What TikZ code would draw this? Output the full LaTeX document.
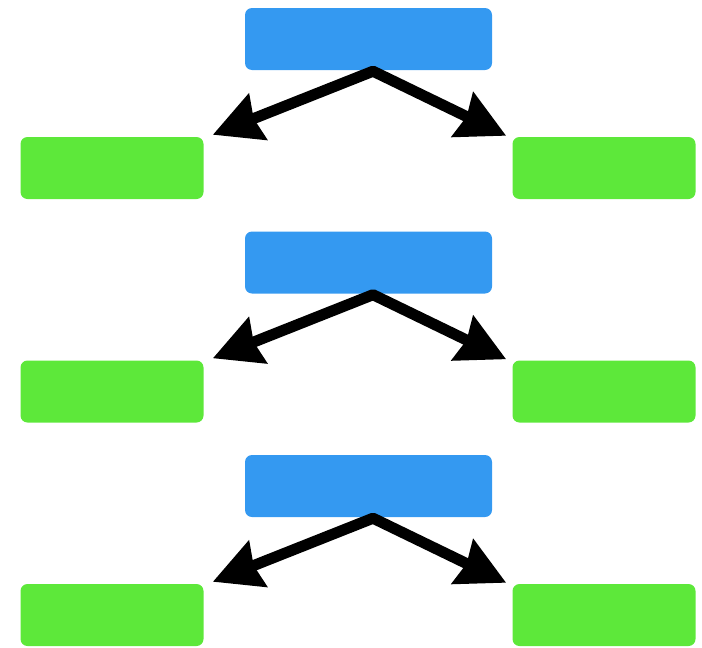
\documentclass[tikz,border=0pt]{standalone}
\usetikzlibrary{arrows.meta,calc}
\definecolor{boxblue}{HTML}{3499F1}
\definecolor{boxgreen}{HTML}{5DE83A}
\tikzset{
  bluebox/.style={rectangle,rounded corners=7pt,fill=boxblue,minimum width=247pt,minimum height=62pt,inner sep=0pt,draw=none},
  greenbox/.style={rectangle,rounded corners=7pt,fill=boxgreen,minimum width=183pt,minimum height=62pt,inner sep=0pt,draw=none},
  splitarrow/.style={line width=11pt,line join=round,black,
    {Stealth[length=48pt,width=48pt,inset=4pt]}-{Stealth[length=48pt,width=48pt,inset=4pt]}}
}
\begin{document}
\begin{tikzpicture}[x=1pt,y=-1pt]
\useasboundingbox (0,0) rectangle (702,648);
\foreach \i/\dy in {1/0,2/223.5,3/447}{
  \node[bluebox]  (b\i) at (368.5,39+\dy) {};
  \node[greenbox] (l\i) at (112,168+\dy) {};
  \node[greenbox] (r\i) at (604,168+\dy) {};
  \coordinate (a\i) at ($(b\i.south)+(4.5,1)$);
  \coordinate (tl\i) at ($(l\i.north east)+(9,-2)$);
  \coordinate (tr\i) at ($(r\i.north west)+(-6,-1)$);
  \draw[splitarrow] (tl\i) -- (a\i) -- (tr\i);
}
\end{tikzpicture}
\end{document}
